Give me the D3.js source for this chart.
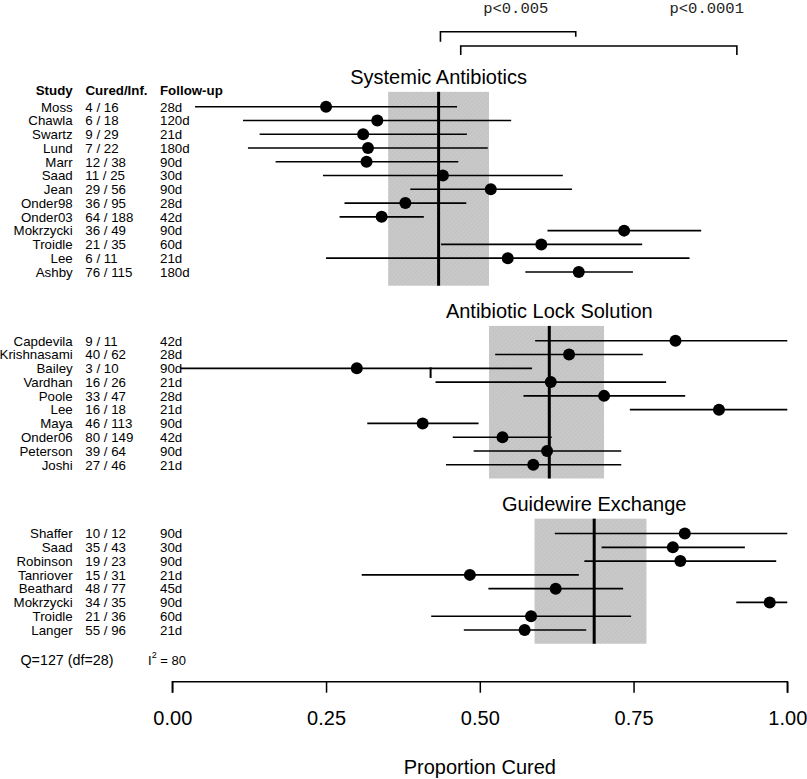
<!DOCTYPE html>
<html>
<head>
<meta charset="utf-8">
<script src="https://cdn.jsdelivr.net/npm/d3@7"></script>
<style>
    body { margin: 0; background: #fff; }
    text { font-family: "Liberation Sans", Arial, sans-serif; fill: #000; }
    .tbl { font-size: 13.3px; }
    .hdr { font-size: 13.3px; font-weight: bold; }
    .big { font-size: 20px; }
    .mono { font-family: "Liberation Mono", "Courier New", monospace; font-size: 15.5px; fill: #222; }
</style>
</head>
<body>
<svg id="container"></svg>
<script>
const width = 807, height = 779;

const groups = ['Systemic Antibiotics', 'Antibiotic Lock Solution', 'Guidewire Exchange'];
const studies = [
    ['Moss', 'Chawla', 'Swartz', 'Lund', 'Marr', 'Saad', 'Jean', 'Onder98', 'Onder03', 'Mokrzycki', 'Troidle', 'Lee', 'Ashby'],
    ['Capdevila', 'Krishnasami', 'Bailey', 'Vardhan', 'Poole', 'Lee', 'Maya', 'Onder06', 'Peterson', 'Joshi'],
    ['Shaffer', 'Saad', 'Robinson', 'Tanriover', 'Beathard', 'Mokrzycki', 'Troidle', 'Langer']
];
const cured = [
    [4, 6, 9, 7, 12, 11, 29, 36, 64, 36, 21, 6, 76],
    [9, 40, 3, 16, 33, 16, 46, 80, 39, 27],
    [10, 35, 19, 15, 48, 34, 21, 55]
];
const infected = [
    [16, 18, 29, 22, 38, 25, 56, 95, 188, 49, 35, 11, 115],
    [11, 62, 10, 26, 47, 18, 113, 149, 64, 46],
    [12, 43, 23, 31, 77, 35, 36, 96]
];
const followUp = [
    ['28d', '120d', '21d', '180d', '90d', '30d', '90d', '28d', '42d', '90d', '60d', '21d', '180d'],
    ['42d', '28d', '90d', '21d', '28d', '21d', '90d', '42d', '90d', '21d'],
    ['90d', '30d', '90d', '21d', '45d', '90d', '60d', '21d']
];
const ciLow = [
    [0.037, 0.115, 0.142, 0.123, 0.168, 0.245, 0.387, 0.280, 0.272, 0.610, 0.437, 0.250, 0.574],
    [0.590, 0.525, 0.013, 0.428, 0.571, 0.744, 0.317, 0.456, 0.490, 0.445],
    [0.622, 0.698, 0.670, 0.308, 0.514, 0.917, 0.421, 0.474]
];
const ciHigh = [
    [0.463, 0.551, 0.479, 0.513, 0.465, 0.635, 0.650, 0.478, 0.409, 0.860, 0.764, 0.841, 0.749],
    [1.000, 0.765, 0.585, 0.803, 0.834, 1.000, 0.498, 0.617, 0.730, 0.730],
    [1.000, 0.931, 0.982, 0.661, 0.733, 1.000, 0.746, 0.673]
];
const pooled = [0.433, 0.613, 0.686];
const pooledLow = [0.351, 0.515, 0.589];
const pooledHigh = [0.515, 0.702, 0.771];

const xTicks = [0, 0.25, 0.5, 0.75, 1];
const pLabels = ['p<0.005', 'p<0.0001'];
const pLabelAt = [0.5585, 0.869];
const bracketFrom = [0.436, 0.469];
const bracketTo = [0.656, 0.918];
const strayTick = 0.42;

const svg = d3.select('#container')
    .attr('width', width)
    .attr('height', height)
    .attr('viewBox', `0 0 ${width} ${height}`);

svg.append('rect').attr('width', width).attr('height', height).attr('fill', '#fff');

const pat = svg.append('defs').append('pattern')
    .attr('id', 'hatch')
    .attr('patternUnits', 'userSpaceOnUse')
    .attr('width', 3).attr('height', 3)
    .attr('patternTransform', 'rotate(45)');
pat.append('rect').attr('width', 3).attr('height', 3).attr('fill', '#c9c9c9');
pat.append('line').attr('x1', 0).attr('y1', 0).attr('x2', 0).attr('y2', 3)
    .attr('stroke', '#bcbcbc').attr('stroke-width', 1);

const x = d3.scaleLinear().domain([0, 1]).range([172.3, 787.3]);
const y = d3.scaleLinear().domain([0, 1]).range([106.7, 106.7 + 13.77]);

// row index where each group starts (4 blank rows between groups)
const starts = [];
groups.forEach((g, k) => {
    starts.push(k === 0 ? 0 : starts[k - 1] + studies[k - 1].length + 4);
});

// table header
const header = svg.append('g').attr('class', 'hdr');
header.append('text').attr('x', 72.7).attr('y', y(-1) + 2).attr('text-anchor', 'end').text('Study');
header.append('text').attr('x', 85.5).attr('y', y(-1) + 2).text('Cured/Inf.');
header.append('text').attr('x', 160).attr('y', y(-1) + 2).text('Follow-up');

groups.forEach((g, k) => {
    const s = starts[k];
    const n = studies[k].length;
    const rows = d3.range(n).map(i => ({
        name: studies[k][i],
        c: cured[k][i],
        n: infected[k][i],
        fu: followUp[k][i],
        lo: ciLow[k][i],
        hi: ciHigh[k][i],
        row: s + i
    }));
    const grp = svg.append('g');

    grp.append('rect')
        .attr('x', x(pooledLow[k]))
        .attr('y', y(s - 1.08))
        .attr('width', x(pooledHigh[k]) - x(pooledLow[k]))
        .attr('height', y(s + n) - y(s - 1.08))
        .attr('fill', 'url(#hatch)');

    grp.append('text')
        .attr('class', 'big')
        .attr('x', x(pooled[k]))
        .attr('y', y(s - 2) + 5)
        .attr('text-anchor', 'middle')
        .text(g);

    const tbl = grp.append('g').attr('class', 'tbl');
    tbl.selectAll('.name').data(rows).join('text')
        .attr('x', 72.7).attr('y', d => y(d.row) + 4.8)
        .attr('text-anchor', 'end').text(d => d.name);
    tbl.selectAll('.frac').data(rows).join('text')
        .attr('x', 85.3).attr('y', d => y(d.row) + 4.8)
        .text(d => `${d.c} / ${d.n}`);
    tbl.selectAll('.fu').data(rows).join('text')
        .attr('x', 160).attr('y', d => y(d.row) + 4.8)
        .text(d => d.fu);

    grp.selectAll('line.ci').data(rows).join('line')
        .attr('class', 'ci')
        .attr('x1', d => x(d.lo)).attr('x2', d => x(d.hi))
        .attr('y1', d => y(d.row)).attr('y2', d => y(d.row))
        .attr('stroke', '#000').attr('stroke-width', 1.6);

    grp.append('line')
        .attr('x1', x(pooled[k])).attr('x2', x(pooled[k]))
        .attr('y1', y(s - 1.08)).attr('y2', y(s + n))
        .attr('stroke', '#000').attr('stroke-width', 3);

    grp.selectAll('circle').data(rows).join('circle')
        .attr('cx', d => x(d.c / d.n))
        .attr('cy', d => y(d.row))
        .attr('r', 6)
        .attr('fill', '#000');
});

// small stray mark under the Bailey line
const bailey = starts[1] + studies[1].indexOf('Bailey');
svg.append('line')
    .attr('x1', x(strayTick)).attr('x2', x(strayTick))
    .attr('y1', y(bailey) - 1).attr('y2', y(bailey + 0.7))
    .attr('stroke', '#000').attr('stroke-width', 2);

// heterogeneity
svg.append('text').attr('class', 'tbl').attr('x', 20.5).attr('y', 665)
    .style('font-size', '14.3px').text('Q=127 (df=28)');
const i2 = svg.append('text').attr('class', 'tbl').attr('x', 148).attr('y', 665).style('font-size', '13px');
i2.append('tspan').text('I');
i2.append('tspan').attr('dy', -7).style('font-size', '9px').text('2');
i2.append('tspan').attr('dy', 7).text(' = 80');

// p-value brackets
const bracketY = [31.7, 46];
const tickLeft = [10, 9];
const tickRight = [5, 9];
pLabels.forEach((p, i) => {
    svg.append('path')
        .attr('d', `M${x(bracketFrom[i])},${bracketY[i] + tickLeft[i]}V${bracketY[i]}H${x(bracketTo[i])}V${bracketY[i] + tickRight[i]}`)
        .attr('fill', 'none').attr('stroke', '#000').attr('stroke-width', 1.6);
    svg.append('text')
        .attr('class', 'mono')
        .attr('x', x(pLabelAt[i]))
        .attr('y', 13)
        .attr('text-anchor', 'middle')
        .text(p);
});

// x axis
const axis = svg.append('g')
    .attr('transform', 'translate(0,681.7)')
    .call(d3.axisBottom(x).tickValues(xTicks).tickFormat(d3.format('.2f')).tickSize(11).tickPadding(18))
    .call(g => g.select('.domain').attr('stroke-width', 1.5).attr('d', `M${x(0)},11V0H${x(1)}V11`));
axis.selectAll('.tick line').attr('stroke-width', 1.5);
axis.selectAll('.tick text').attr('font-size', 20).attr('font-family', '"Liberation Sans", Arial, sans-serif');

svg.append('text')
    .attr('class', 'big')
    .attr('x', x(0.5))
    .attr('y', 774)
    .attr('text-anchor', 'middle')
    .text('Proportion Cured');
</script>
</body>
</html>
